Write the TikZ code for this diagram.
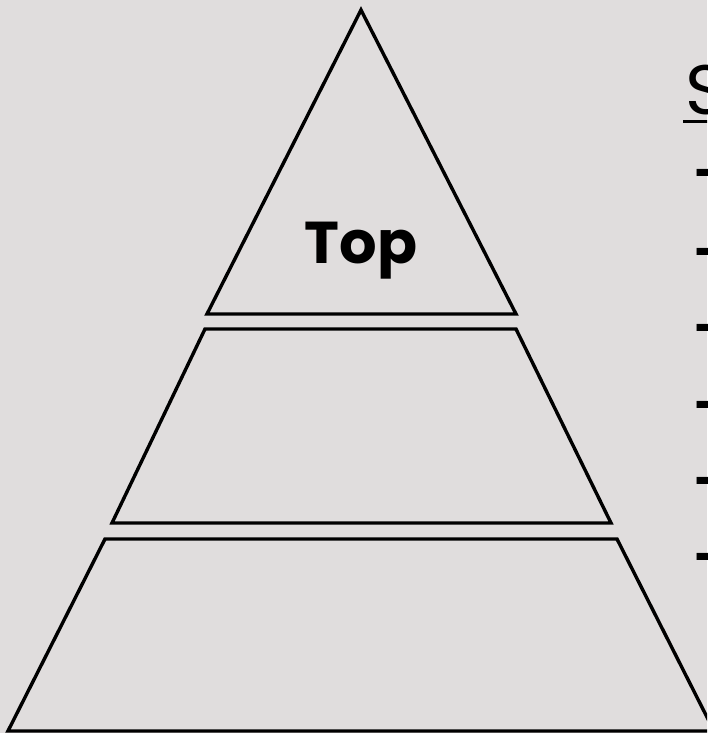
\documentclass[tikz,border=0pt]{standalone}
\usepackage{fontspec}
\setmainfont{Poppins}
\usetikzlibrary{positioning}
\definecolor{bgcol}{RGB}{224,221,221}
\tikzset{tier/.style={draw=black, line width=3.4pt, line join=miter},
  dashitem/.style={anchor=base west, inner sep=0pt, font=\bfseries\fontsize{50}{60}\selectfont}}

\begin{document}
\begin{tikzpicture}[x=1pt,y=-1pt]
  \fill[bgcol] (0,0) rectangle (707,733);
  \useasboundingbox (0,0) rectangle (707,733);
  \clip (0,0) rectangle (707,733);
  % pyramid tiers
  \draw[tier] (361,10) -- (516,314) -- (207,314) -- cycle;
  \draw[tier] (205,329) -- (516,329) -- (611,523) -- (112,523) -- cycle;
  \draw[tier] (105,539) -- (617,539) -- (714,731) -- (8,731) -- cycle;
  \node[anchor=base, inner sep=0pt, font=\bfseries\fontsize{59}{70}\selectfont] (top) at (361,263) {Top};
  % list at the right, cut off by the page edge
  \node[anchor=base west, inner sep=0pt, font=\fontsize{70}{80}\selectfont] (head) at (685,114) {S};
  \draw[line width=3pt] ([xshift=-2pt,yshift=-8pt]head.base west) -- ++(40,0);
  \foreach \i/\yy in {1/190,2/269,3/345,4/422,5/498,6/574}
    \node[dashitem] (d\i) at (694,\yy) {-};
\end{tikzpicture}
\end{document}
